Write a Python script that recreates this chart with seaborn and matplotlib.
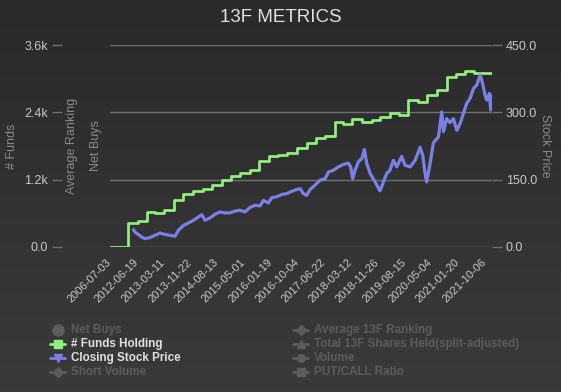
#libraries

import numpy as np
import pandas as pd
import matplotlib
matplotlib.use("Agg")
import matplotlib.pyplot as plt
from matplotlib.lines import Line2D
from matplotlib.colors import LinearSegmentedColormap
import seaborn as sns

# x positions are category index units (ticks every 183 points)
tick_labels = ['2006-07-03', '2012-06-19', '2013-03-11', '2013-11-22', '2014-08-13',
               '2015-05-01', '2016-01-19', '2016-10-04', '2017-06-22', '2018-03-12',
               '2018-11-26', '2019-08-15', '2020-05-04', '2021-01-20', '2021-10-06']

# funds holding (quarterly, step line)
funds_x = [0, 126, 190, 256, 308, 372, 438, 502, 571, 639, 701, 764, 828, 890, 958,
           1022, 1088, 1152, 1214, 1278, 1346, 1410, 1472, 1540, 1597, 1659, 1723,
           1791, 1848, 1916, 1981, 2042, 2106, 2167, 2236, 2304, 2368, 2430, 2494, 2612]
funds_holding = [0, 434, 458, 625, 613, 655, 833, 952, 1000, 1041, 1101, 1202, 1267,
                 1321, 1369, 1535, 1618, 1648, 1678, 1773, 1856, 1934, 1975, 2231, 2184,
                 2273, 2225, 2261, 2309, 2380, 2356, 2618, 2576, 2707, 2797, 3035, 3076,
                 3142, 3106, 3106]

# closing stock price
price_x = [160, 171, 194, 217, 240, 274, 308, 342, 377, 411, 445, 468, 502, 536, 571,
           605, 628, 650, 685, 719, 753, 787, 821, 856, 890, 924, 958, 993, 1027, 1050,
           1084, 1107, 1141, 1175, 1209, 1244, 1278, 1301, 1323, 1346, 1369, 1403, 1438,
           1472, 1495, 1529, 1563, 1597, 1631, 1647, 1661, 1677, 1700, 1723, 1741, 1757,
           1780, 1814, 1848, 1871, 1894, 1916, 1939, 1962, 1996, 2019, 2054, 2088, 2122,
           2140, 2156, 2167, 2190, 2213, 2247, 2270, 2282, 2304, 2327, 2350, 2373, 2396,
           2418, 2441, 2464, 2487, 2510, 2533, 2544, 2567, 2578, 2596, 2605, 2612]
closing_price = [38.7, 33, 28, 22, 18.6, 21, 26, 31, 28, 26, 24, 37, 48, 53.5, 59.5,
                 67, 72, 59.5, 65, 73, 78, 76, 76, 80, 82, 78, 88, 93, 91.5, 104,
                 98, 110, 112, 117, 119, 124, 128, 130, 119, 115, 128, 138, 149,
                 152, 167, 171, 178.5, 184, 187, 178.5, 152, 171, 190, 197, 217, 186,
                 164, 145, 125, 145, 164, 171, 193, 178.5, 202, 182, 178.5, 193, 222,
                 204.5, 164, 145, 186, 232, 245, 301, 257, 286, 277, 286, 260, 275,
                 297.5, 320, 331, 353, 361, 383, 372, 338, 327, 342, 305, 338]

funds_ticks = [0, 1200, 2400, 3600]
funds_tick_labels = ['0.0', '1.2k', '2.4k', '3.6k']
price_ticks = [0, 150, 300, 450]
price_tick_labels = ['0.0', '150.0', '300.0', '450.0']

legend_left = [('Net Buys', 'o', False), ('# Funds Holding', 's', True),
               ('Closing Stock Price', 'v', True), ('Short Volume', 'D', False)]
legend_right = [('Average 13F Ranking', 'D', False),
                ('Total 13F Shares Held(split-adjusted)', '^', False),
                ('Volume', 'o', False), ('PUT/CALL Ratio', 's', False)]

green = '#90ee7e'
blue = '#7b80e6'
grid_c = '#707073'
label_c = '#c8c8c8'
title_c = '#8a8a8a'
hidden_c = '#5c5c5e'

sns.set_style("dark")
plt.rcParams['font.family'] = ['Liberation Sans', 'DejaVu Sans']

W, H = 561, 392
PT = 0.72  # points per pixel at dpi 100
fig = plt.figure(figsize=(W / 100, H / 100), dpi=100)

# gradient background
bg = fig.add_axes([0, 0, 1, 1], zorder=-10)
cmap = LinearSegmentedColormap.from_list('bg', ['#2a2a2b', '#3a3a3b'])
bg.imshow(np.linspace(0, 1, 100).reshape(-1, 1), aspect='auto', cmap=cmap,
          extent=[0, 1, 0, 1])
bg.axis('off')

def fx(px):
    return px / W

def fy(py):
    return 1 - py / H

ax = fig.add_axes([fx(110), fy(247), fx(382), 202 / H])
ax.set_facecolor('none')
ax.patch.set_alpha(0)

df_f = pd.DataFrame({'x': funds_x, 'funds': funds_holding})
sns.lineplot(data=df_f, x='x', y='funds', ax=ax, color=green, linewidth=2,
             drawstyle='steps-post', zorder=3)
ax.set_ylim(0, 3600)
ax.set_xlim(0, 2614)
ax.set_yticks(funds_ticks)
ax.set_yticklabels(funds_tick_labels)
ax.grid(False)
for v in funds_ticks:
    ax.axhline(v, color=grid_c, linewidth=1, zorder=1)
for s in ax.spines.values():
    s.set_visible(False)
ax.spines['left'].set_position(('outward', 48 * PT))
ax.tick_params(axis='y', colors=grid_c, length=10 * PT, width=1, direction='out',
               pad=4 * PT, labelsize=9, labelcolor=label_c)
ax.set_xticks([183 * i for i in range(len(tick_labels))])
ax.set_xticklabels(tick_labels, rotation=45, ha='right', va='center',
                   rotation_mode='anchor')
ax.tick_params(axis='x', length=0, pad=10, labelsize=8, labelcolor=label_c)
ax.set_xlabel('')
ax.set_ylabel('')

ax2 = ax.twinx()
df_p = pd.DataFrame({'x': price_x, 'price': closing_price})
sns.lineplot(data=df_p, x='x', y='price', ax=ax2, color=blue, linewidth=2.3, zorder=3)
ax2.set_ylim(0, 450)
ax2.set_yticks(price_ticks)
ax2.set_yticklabels(price_tick_labels)
ax2.grid(False)
for s in ax2.spines.values():
    s.set_visible(False)
ax2.tick_params(axis='y', colors=grid_c, length=10 * PT, width=1, direction='out',
                pad=4 * PT, labelsize=9, labelcolor=label_c)
ax2.set_ylabel('')

# title and axis titles
fig.text(0.5, fy(17), '13F METRICS', ha='center', va='center', fontsize=13.5,
         color='#e0e0e3')
fig.text(fx(12), fy(146), '# Funds', rotation=90, ha='center', va='center',
         fontsize=9, color=title_c)
fig.text(fx(72), fy(146), 'Average Ranking', rotation=90, ha='center', va='center',
         fontsize=9, color=title_c)
fig.text(fx(96), fy(146), 'Net Buys', rotation=90, ha='center', va='center',
         fontsize=9, color=title_c)
fig.text(fx(545), fy(146), 'Stock Price', rotation=270, ha='center', va='center',
         fontsize=9, color=title_c)

# legend
def legend_item(x0, y, name, marker, active, color):
    c = color if active else hidden_c
    tc = '#e0e0e3' if active else hidden_c
    if name != 'Net Buys':
        fig.add_artist(Line2D([fx(x0), fx(x0 + 15)], [fy(y), fy(y)], color=c,
                              linewidth=2, transform=fig.transFigure))
    ms = 8 if name == 'Net Buys' else 5.5
    fig.add_artist(Line2D([fx(x0 + 7.5)], [fy(y)], marker=marker, color=c,
                          markersize=ms, linestyle='none', transform=fig.transFigure))
    fig.text(fx(x0 + 21), fy(y), name, ha='left', va='center', fontsize=8.4,
             fontweight='bold', color=tc)

row_y = [330, 344, 358, 372]
left_colors = ['#888', green, blue, '#888']
for (name, m, act), y, c in zip(legend_left, row_y, left_colors):
    legend_item(50, y, name, m, act, c)
for (name, m, act), y in zip(legend_right, row_y):
    legend_item(293, y, name, m, act, '#888')

plt.savefig('out.png', dpi=100, facecolor=fig.get_facecolor())
